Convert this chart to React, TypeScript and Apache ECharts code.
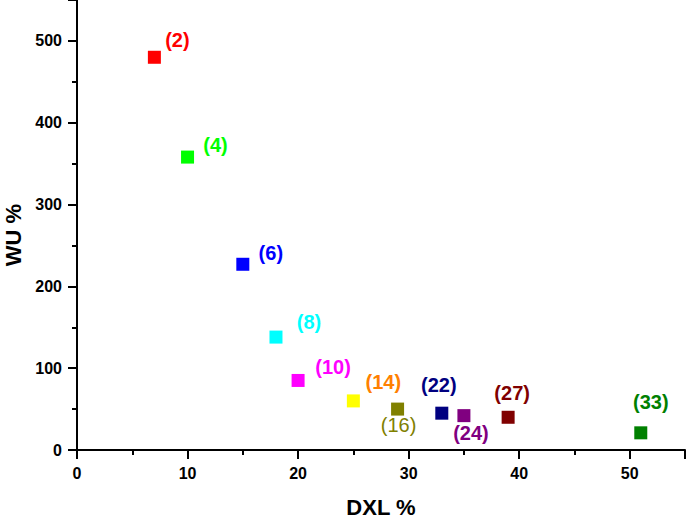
import React, { useEffect, useRef } from "react";
import * as echarts from "echarts";

const xValues = [7, 10, 15, 18, 20, 25, 29, 33, 35, 39, 51];
const yValues = [480, 358, 227, 138, 85, 60, 50, 45, 42, 40, 21];
const pointLabels = ["(2)", "(4)", "(6)", "(8)", "(10)", "(14)", "(16)", "(22)", "(24)", "(27)", "(33)"];
const markerColors = ["#ff0000", "#00ff00", "#0000ff", "#00ffff", "#ff00ff", "#ffff00", "#808000", "#000080", "#800080", "#800000", "#008000"];
const labelColors = ["#ff0000", "#00ff00", "#0000ff", "#00ffff", "#ff00ff", "#ff8000", "#808000", "#000080", "#800080", "#800000", "#008000"];
const labelWeights = ["bold", "bold", "bold", "bold", "bold", "bold", "normal", "bold", "bold", "bold", "bold"];
const labelOffsets = [[23, -17], [28, -12], [28, -11], [33, -15], [35, -13], [30, -19], [1, 16], [-3, -28], [7, 17], [4, -24], [10, -31]];
const xAxisName = "DXL %";
const yAxisName = "WU %";

export default function App() {
  const ref = useRef<HTMLDivElement>(null);
  useEffect(() => {
    const chart = echarts.init(ref.current!, null, { renderer: "svg" });
    const font = "Liberation Sans, Arial, sans-serif";
    const data = xValues.map((x, i) => ({
      value: [x, yValues[i]],
      itemStyle: { color: markerColors[i], opacity: 1 },
      label: {
        show: true,
        formatter: pointLabels[i],
        position: "inside",
        offset: labelOffsets[i],
        color: labelColors[i],
        fontWeight: labelWeights[i],
        fontSize: 20,
        fontFamily: font,
      },
    }));
    const axisCommon = {
      axisLine: { show: true, lineStyle: { color: "#000", width: 2 } },
      axisTick: { show: true, length: 9, lineStyle: { color: "#000", width: 2 } },
      minorTick: { show: true, splitNumber: 2, length: 5, lineStyle: { color: "#000", width: 2 } },
      splitLine: { show: false },
      nameLocation: "middle",
      nameTextStyle: { color: "#000", fontWeight: "bold", fontSize: 22, fontFamily: font },
    };
    const labelStyle = { color: "#000", fontWeight: "bold", fontSize: 16, fontFamily: font, showMaxLabel: false };
    chart.setOption({
      animation: false,
      grid: { left: 77, right: 2, top: 0, bottom: 75, containLabel: false, outerBoundsMode: "none" },
      xAxis: {
        type: "value",
        min: 0,
        max: 55,
        interval: 10,
        name: xAxisName,
        nameGap: 46,
        ...axisCommon,
        axisLabel: { ...labelStyle, margin: 15 },
      },
      yAxis: {
        type: "value",
        min: 0,
        max: 550,
        interval: 100,
        name: yAxisName,
        nameGap: 49,
        ...axisCommon,
        nameTextStyle: { ...axisCommon.nameTextStyle, padding: [0, 0, 0, -20] },
        axisLabel: { ...labelStyle, margin: 15 },
      },
      series: [
        {
          type: "scatter",
          symbol: "rect",
          symbolSize: 13,
          itemStyle: { opacity: 1 },
          emphasis: { disabled: true },
          data,
        },
      ],
    });
    return () => chart.dispose();
  }, []);
  return (
    <div
      ref={ref}
      style={{ position: "fixed", left: 0, top: 0, width: 687, height: 525, background: "#fff" }}
    />
  );
}
